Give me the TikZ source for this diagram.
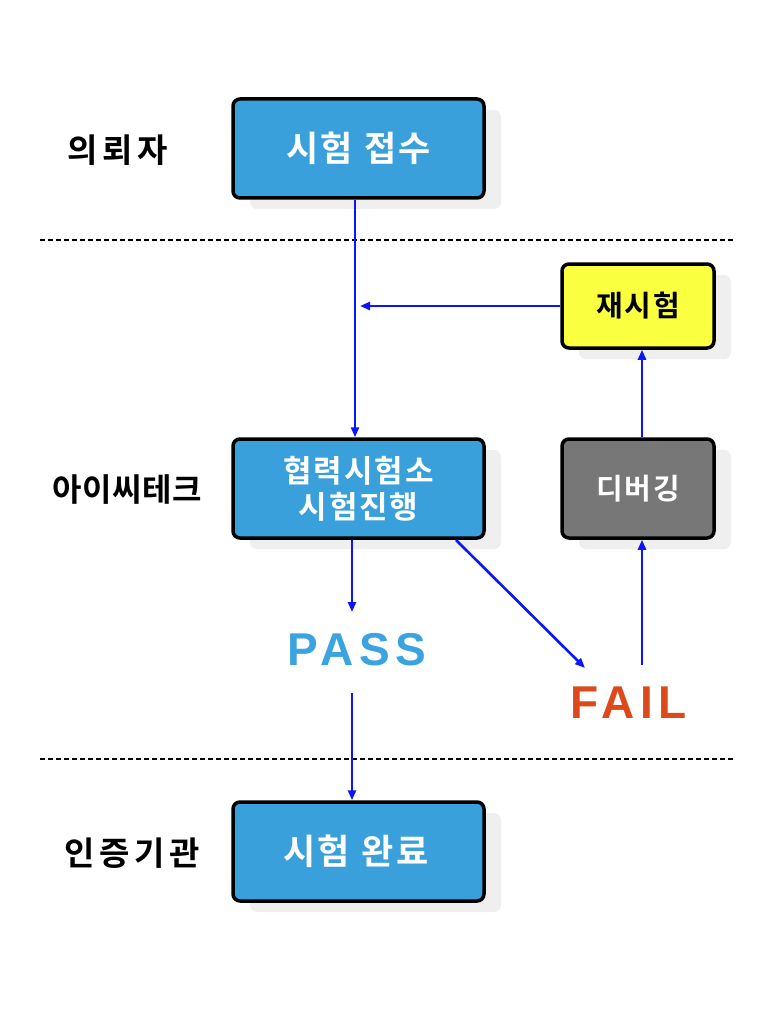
\documentclass[tikz,border=0pt]{standalone}
\usepackage{fontspec}
\newfontfamily\kr{Noto Sans CJK KR}[BoldFont={Noto Sans CJK KR Bold}]
\newfontfamily\lat{Liberation Sans}
\usetikzlibrary{shadows,arrows.meta,calc}
\definecolor{boxblue}{HTML}{3AA0DC}
\definecolor{passblue}{HTML}{3BA3DF}
\definecolor{failred}{HTML}{DC4A1C}
\definecolor{arrblue}{RGB}{10,20,255}
\definecolor{shadowgray}{HTML}{EFEFEF}
\definecolor{retestyellow}{HTML}{FAFF40}
\definecolor{debuggray}{HTML}{777777}
\begin{document}
\begin{tikzpicture}[x=1pt,y=-1pt,
  box/.style={draw=black, line width=3.5pt, rounded corners=7pt,
    drop shadow={shadow xshift=17pt, shadow yshift=-11pt, fill=shadowgray, opacity=1},
    align=center, text=white, inner sep=0pt},
  bigbox/.style={box, fill=boxblue, minimum width=251pt, minimum height=99pt},
  smallbox/.style={box, minimum width=152pt},
  arr/.style={draw=arrblue, line width=2.6pt, -{Triangle[length=10pt,width=8pt]}},
  sep/.style={draw=black, line width=1.3pt, dash pattern=on 5pt off 3pt},
  big/.style={font=\lat\bfseries\addfontfeatures{LetterSpace=12}\fontsize{46}{50}\selectfont}
]
\useasboundingbox (0,0) rectangle (768,1024);

% separators
\draw[sep] (40,240) -- (733,240);
\draw[sep] (40,759) -- (733,759);

% lane labels
\node[font=\kr\bfseries\addfontfeatures{LetterSpace=14}\fontsize{33}{38}\selectfont] (l1) at (118,150) {의뢰자};
\node[font=\kr\bfseries\addfontfeatures{LetterSpace=2}\fontsize{32}{38}\selectfont] (l2) at (127,490) {아이씨테크};
\node[font=\kr\bfseries\addfontfeatures{LetterSpace=14}\fontsize{33}{38}\selectfont] (l3) at (132,853) {인증기관};

% boxes
\node[bigbox, font=\kr\bfseries\addfontfeatures{LetterSpace=6}\fontsize{35}{40}\selectfont] (recv) at (358.5,148.5) {시험\hspace{12pt}접수};
\node[smallbox, fill=retestyellow, text=black, minimum height=84pt,
      font=\kr\bfseries\addfontfeatures{LetterSpace=6}\fontsize{29}{34}\selectfont] (retest) at (638,306) {재시험};
\node[bigbox, font=\kr\bfseries\addfontfeatures{LetterSpace=6}\fontsize{31}{37}\selectfont] (test) at (358.5,488.5) {협력시험소\\[-1pt]시험진행};
\node[smallbox, fill=debuggray, minimum height=99pt,
      font=\kr\bfseries\addfontfeatures{LetterSpace=6}\fontsize{29}{34}\selectfont] (debug) at (638,488.5) {디버깅};
\node[bigbox, font=\kr\bfseries\addfontfeatures{LetterSpace=6}\fontsize{35}{40}\selectfont] (done) at (358.5,851.5) {\hspace{-5pt}시험\hspace{12pt}완료};

% results
\node[big, text=passblue] (pass) at (357,650) {PASS};
\node[big, text=failred] (fail) at (629,703) {FAIL};

% connector ends
\coordinate (passin) at (352,612);
\coordinate (passout) at (352,693);
\coordinate (failin) at (585,668);
\coordinate (failout) at (642,665);
\coordinate (diagstart) at (456,540);

% connectors
\draw[arr] ([xshift=-3.5pt]recv.south) -- ([xshift=-3.5pt]test.north);
\draw[arr, shorten >=5pt] (retest.west) -- (retest.west -| 355,0);
\draw[arr] (passin |- test.south) -- (passin);
\draw[arr] (passout) -- (passout |- done.north);
\draw[arr] (diagstart) -- (failin);
\draw[arr] (failout) -- (failout |- debug.south);
\draw[arr] (failout |- debug.north) -- (failout |- retest.south);
\end{tikzpicture}
\end{document}
